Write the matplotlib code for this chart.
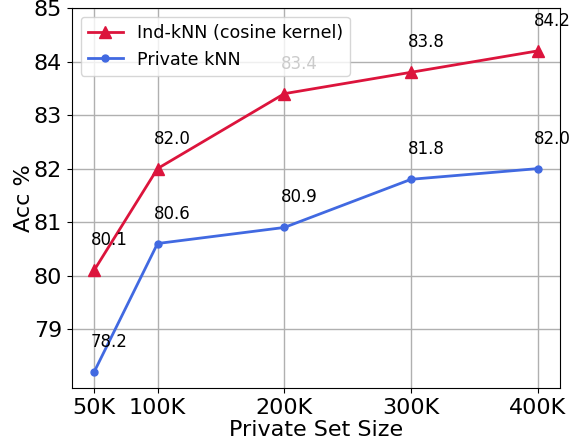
import matplotlib
matplotlib.use("Agg")
import matplotlib.pyplot as plt

sizes = [50, 100, 200, 300, 400]
tick_labels = ["50K", "100K", "200K", "300K", "400K"]
ind_knn = [80.1, 82.0, 83.4, 83.8, 84.2]
private_knn = [78.2, 80.6, 80.9, 81.8, 82.0]
yticks = [79, 80, 81, 82, 83, 84, 85]

fig = plt.figure(figsize=(5.71, 4.47), dpi=100)
ax = fig.add_axes([0.126, 0.132, 0.855, 0.850])

ax.plot(sizes, ind_knn, color="crimson", marker="^", markersize=8, linewidth=2,
        label="Ind-kNN (cosine kernel)")
ax.plot(sizes, private_knn, color="royalblue", marker="o", markersize=5, linewidth=2,
        label="Private kNN")

for x, y in zip(sizes, ind_knn):
    ax.annotate(f"{y:.1f}", (x, y), xytext=(-2.6, 21.6), textcoords="offset points",
                ha="left", va="center", fontsize=12)
for x, y in zip(sizes, private_knn):
    ax.annotate(f"{y:.1f}", (x, y), xytext=(-2.6, 21.6), textcoords="offset points",
                ha="left", va="center", fontsize=12)

ax.set_xticks(sizes)
ax.set_xticklabels(tick_labels)
ax.set_yticks(yticks)
ax.set_ylim(77.9, 85)
ax.set_xlim(32.5, 417.5)
ax.tick_params(labelsize=16)
ax.set_xlabel("Private Set Size", fontsize=16, labelpad=2)
ax.set_ylabel("Acc %", fontsize=16, labelpad=0)
ax.grid(True, color="#b0b0b0", linewidth=1)
ax.legend(loc="upper left", fontsize=12.6)

fig.savefig("out.png", dpi=100)
